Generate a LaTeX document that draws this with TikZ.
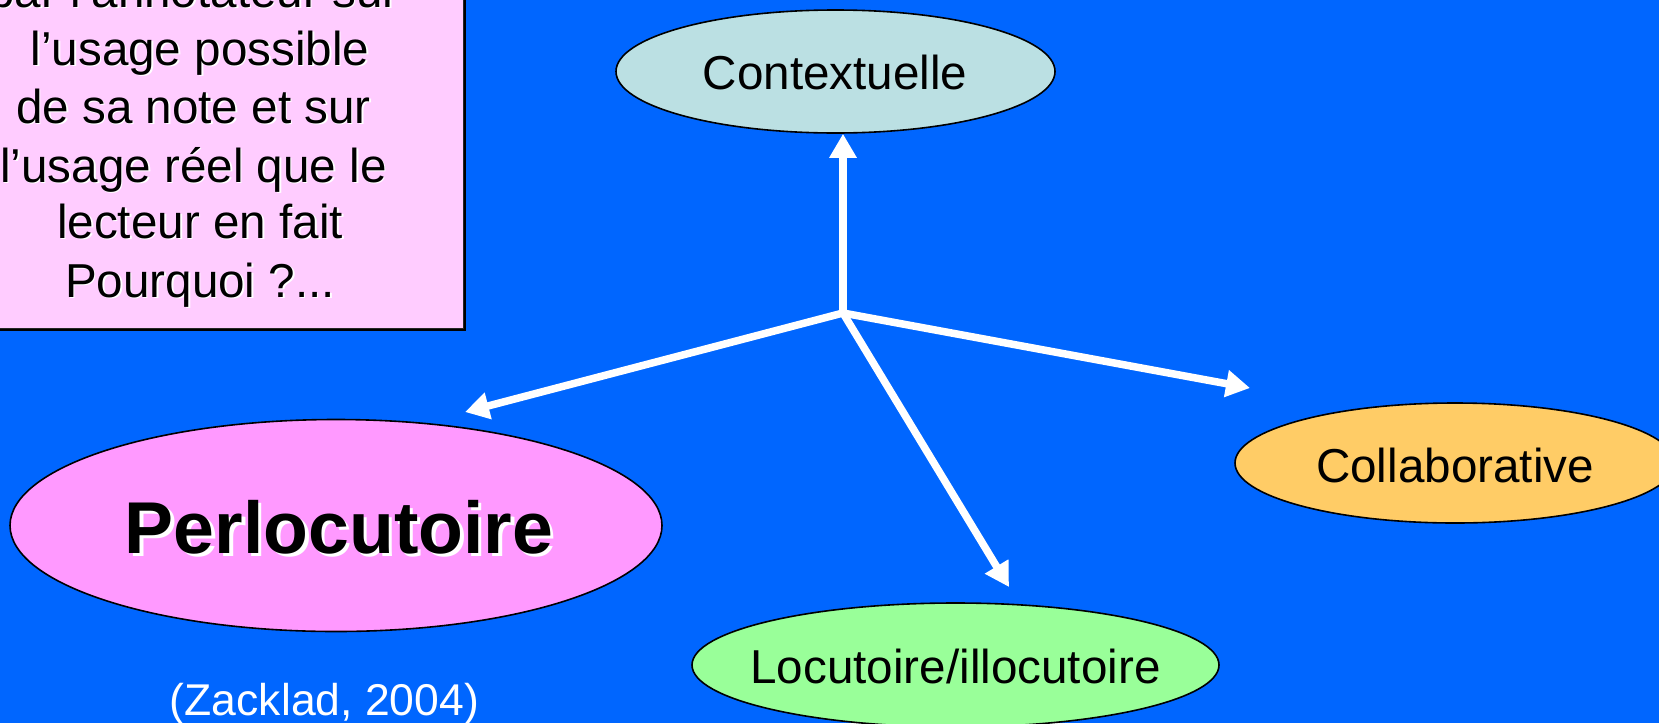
\documentclass[tikz,border=0pt]{standalone}
\usepackage{fontspec}
\setmainfont{Liberation Sans}
\usetikzlibrary{shapes.geometric,arrows.meta,calc,shadows}

\definecolor{slidebg}{RGB}{0,102,255}
\definecolor{notepink}{RGB}{255,204,255}
\definecolor{perlofill}{RGB}{255,153,255}
\definecolor{ctxfill}{RGB}{187,224,227}
\definecolor{collabfill}{RGB}{255,204,102}
\definecolor{locfill}{RGB}{153,255,153}

\tikzset{
  oval/.style={ellipse, draw=black, line width=0.8pt, inner sep=0pt},
  plain/.style={font=\fontsize{23.8}{28}\selectfont, text=black, inner sep=0pt},
  notetext/.style={font=\fontsize{23.8}{28}\selectfont, inner sep=0pt, anchor=base},
  bigtext/.style={inner sep=0pt, font=\bfseries\fontsize{36.7}{44}\selectfont},
  flow/.style={draw=white, line width=3.75pt, line cap=round,
    -{Triangle[length=12pt,width=13pt]}},
}

\begin{document}
\begin{tikzpicture}[x=0.5pt,y=-0.5pt]
  % slide background
  \fill[slidebg] (0,0) rectangle (1659,723);
  \useasboundingbox (0,0) rectangle (1659,723);
  \clip (0,0) rectangle (1659,723);

  % note box with its shadow
  \node[draw=black!85, line width=0.4pt, fill=notepink,
        minimum width=251.5pt, minimum height=204pt, inner sep=0pt,
        drop shadow={shadow xshift=1.5pt, shadow yshift=-1.5pt, fill=black, opacity=1}]
        (note) at (211.5,124) {};
  \foreach \t/\y/\dx [count=\i] in {
      {par l’annotateur sur}/7/-6.5,
      {l’usage possible}/65/0,
      {de sa note et sur}/123/-6.5,
      {l’usage réel que le}/182/-6.5,
      {lecteur en fait}/238/0,
      {Pourquoi ?...}/297/0} {
    \node[notetext, text=white] (noteshadow\i) at (201.5+\dx,\y+1.5) {\t};
    \node[notetext, text=black] (noteline\i) at (200+\dx,\y) {\t};
  }

  % category ellipses
  \node[oval, fill=ctxfill, minimum width=219.5pt, minimum height=61.5pt] (ctx) at (835.5,71.5) {};
  \node[oval, fill=perlofill, minimum width=326pt, minimum height=106pt] (perlo) at (336,525.5) {};
  \node[oval, fill=collabfill, minimum width=220pt, minimum height=60pt] (collab) at (1455,463) {};
  \node[oval, fill=locfill, minimum width=263.5pt, minimum height=62pt] (loc) at (955.5,665) {};

  \node[plain] (ctxlabel) at (835,72) {Contextuelle};
  \node[plain] (collablabel) at (1455,465) {Collaborative};
  \node[plain] (loclabel) at (955.5,666) {Locutoire/illocutoire};
  \node[bigtext, text=white] (perloshadow) at (342.5,530.5) {Perlocutoire};
  \node[bigtext, text=black] (perlolabel) at (339,527) {Perlocutoire};

  % reference
  \node[inner sep=0pt, anchor=base, text=white, font=\fontsize{22.25}{27}\selectfont]
        (ref) at (324.5,715) {(Zacklad, 2004)};

  % arrows from the common origin
  \coordinate (hub) at (843,313);
  \coordinate (toPerlo) at (465,412);
  \coordinate (toCollab) at (1250,388);
  \coordinate (toLoc) at (1009,587);
  \draw[flow] (hub) -- (hub |- ctx.south);
  \draw[flow] (hub) -- (toPerlo);
  \draw[flow] (hub) -- (toCollab);
  \draw[flow] (hub) -- (toLoc);
\end{tikzpicture}
\end{document}
